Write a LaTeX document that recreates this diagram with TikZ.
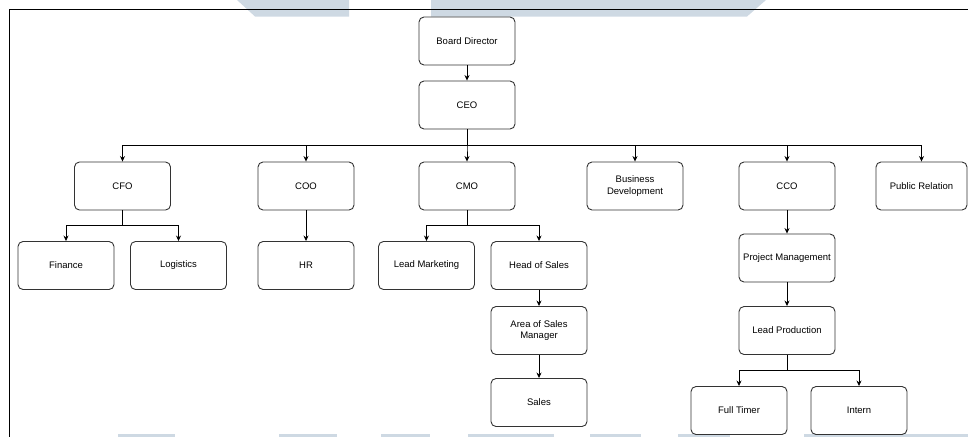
\documentclass[tikz,border=0pt]{standalone}
\usepackage{fontspec}
\setmainfont{Liberation Sans}
\usetikzlibrary{arrows.meta}
\definecolor{wmblue}{RGB}{206,217,227}
\definecolor{edge}{RGB}{51,51,51}
\tikzset{
  unit/.style={draw=edge, line width=0.9pt, fill=white, rounded corners=5pt,
    minimum width=96pt, minimum height=48pt, align=center,
    font=\fontsize{9.5}{11.5}\selectfont},
  link/.style={draw=black, line width=0.8pt, -{Stealth[length=5.5pt,width=5pt]}}
}
\begin{document}
\begin{tikzpicture}[x=1pt,y=1pt]
      \useasboundingbox (0,0) rectangle (968,-437);
      %background marks
      \fill[wmblue] (237,0) -- (349,0) -- (349,-16.5) -- (255,-16.5) -- cycle;
      \fill[wmblue] (431,0) -- (766,0) -- (747,-16.5) -- (431,-16.5) -- cycle;
      \foreach \a/\b in {118/175, 279/337, 381/430, 468/554, 590/641, 678/730, 804/968}
        \fill[wmblue] (\a,-434) rectangle (\b,-437);
      %frame
      \draw[line width=0.9pt] (968,-9) -- (9,-9) -- (9,-437);
      %top
      \node[unit] (board) at (467,-41) {Board Director};
      \node[unit] (ceo) at (467,-105) {CEO};
      %chiefs
      \node[unit] (cfo) at (122.5,-186) {CFO};
      \node[unit] (coo) at (306,-186) {COO};
      \node[unit] (cmo) at (467,-186) {CMO};
      \node[unit] (bizdev) at (635,-186) {Business\\Development};
      \node[unit] (cco) at (787,-186) {CCO};
      \node[unit, minimum width=91pt] (pubrel) at (921.5,-186) {Public Relation};
      %teams
      \node[unit] (finance) at (66,-265.5) {Finance};
      \node[unit] (logistics) at (178.5,-265.5) {Logistics};
      \node[unit] (hr) at (306,-265.5) {HR};
      \node[unit] (leadmkt) at (426.5,-265.5) {Lead Marketing};
      \node[unit] (headsales) at (539,-265.5) {Head of Sales};
      \node[unit] (areasales) at (539,-330.5) {Area of Sales\\Manager};
      \node[unit] (sales) at (539,-402.5) {Sales};
      \node[unit] (projmgmt) at (787,-258) {Project Management};
      \node[unit] (leadprod) at (787,-330.5) {Lead Production};
      \node[unit] (fulltimer) at (739,-410.5) {Full Timer};
      \node[unit] (intern) at (859,-410.5) {Intern};
      %links
      \draw[link] (board) -- (ceo);
      \foreach \n in {cfo, coo, cmo, bizdev, cco, pubrel}
        \draw[link] (ceo.south) -- ++(0,-16) -| (\n.north);
      \foreach \n in {finance, logistics}
        \draw[link] (cfo.south) -- ++(0,-15) -| (\n.north);
      \draw[link] (coo) -- (hr);
      \foreach \n in {leadmkt, headsales}
        \draw[link] (cmo.south) -- ++(0,-15) -| (\n.north);
      \draw[link] (headsales) -- (areasales);
      \draw[link] (areasales) -- (sales);
      \draw[link] (cco) -- (projmgmt);
      \draw[link] (projmgmt) -- (leadprod);
      \foreach \n in {fulltimer, intern}
        \draw[link] (leadprod.south) -- ++(0,-15) -| (\n.north);
\end{tikzpicture}
\end{document}
